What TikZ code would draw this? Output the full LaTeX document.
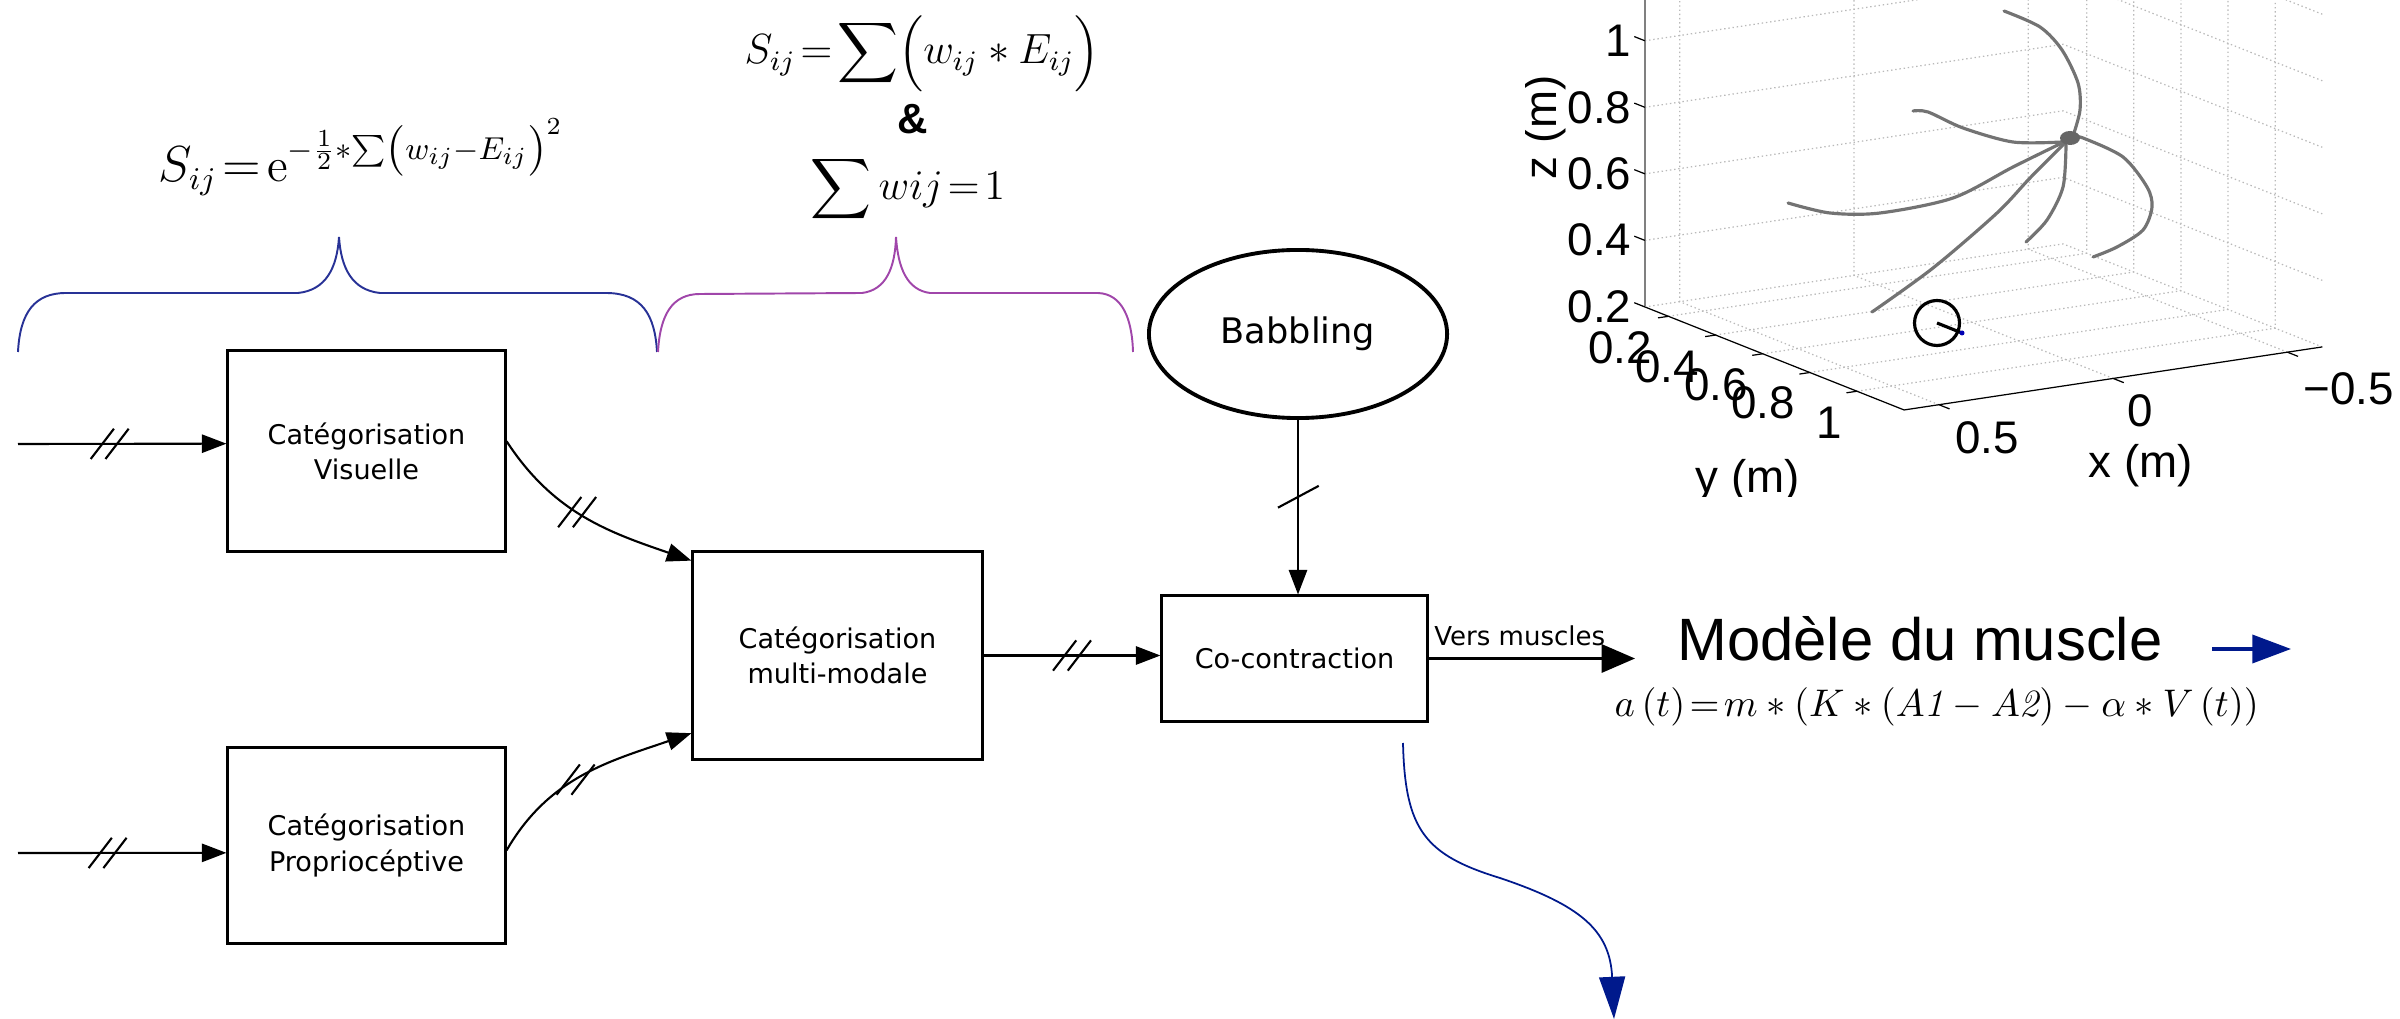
\documentclass[tikz,border=0pt]{standalone}
\usepackage{fontspec}
\usepackage{amsmath}
\usetikzlibrary{shapes.geometric, arrows.meta}
\newfontfamily\boxfont{DejaVu Sans}
\newfontfamily\plotfont{Liberation Sans}
\definecolor{bracenavy}{RGB}{40,50,150}
\definecolor{bracepurple}{RGB}{160,70,170}
\definecolor{darknavy}{RGB}{0,25,140}

\begin{document}
\begin{tikzpicture}[x=0.01cm, y=-0.01cm,
    catbox/.style={draw, line width=0.85pt, align=center, inner sep=0pt,
      font=\boxfont\fontsize{7.7}{10}\selectfont},
    wire/.style={line width=0.6pt, -{Triangle[length=7pt, width=5.2pt]}},
    busmark/.pic={\draw[line width=0.6pt] (-5.4pt,-4.3pt) -- (1.2pt,4.3pt);
                  \draw[line width=0.6pt] (-1.2pt,-4.3pt) -- (5.4pt,4.3pt);},
    slashmark/.pic={\draw[line width=0.6pt] (-5.7pt,-3.1pt) -- (5.9pt,3.1pt);},
    gridline/.style={gray!55, line width=0.35pt, dash pattern=on 0.4pt off 0.8pt},
    traj/.style={black!55, line width=0.9pt, line cap=round},
    ticklab/.style={font=\plotfont\fontsize{13}{15}\selectfont, inner sep=0pt}]

  \useasboundingbox (0,0) rectangle (2400,1019);

  % Draw the braces
  \draw[bracenavy, line width=0.55pt] (18,352) .. controls (20,312) and (35,293) .. (66,293)
    -- (298,293) .. controls (326,290) and (337,268) .. (339,237)
    .. controls (341,268) and (352,290) .. (380,293) -- (606,293)
    .. controls (642,293) and (655,315) .. (657,352);
  \draw[bracepurple, line width=0.55pt] (658,352) .. controls (660,315) and (672,294) .. (700,294)
    -- (862,293) .. controls (886,290) and (895,268) .. (896,237)
    .. controls (898,268) and (907,290) .. (930,293) -- (1098,293)
    .. controls (1122,294) and (1132,318) .. (1133,352);

  % Formulas over the braces
  \node[anchor=base west, inner sep=0pt, font=\fontsize{13.5}{15}\selectfont] (fgauss) at (158,182)
    {$S_{ij}\!=\!\mathrm{e}^{-\frac{1}{2}*\sum\left(w_{ij}-E_{ij}\right)^2}$};
  \node[anchor=base west, inner sep=0pt, font=\fontsize{12}{14}\selectfont] (fsum) at (744,64)
    {$\displaystyle S_{ij}\!=\!\sum\Bigl(w_{ij}*E_{ij}\Bigr)$};
  \node[anchor=base, inner sep=0pt, font=\plotfont\bfseries\fontsize{12}{14}\selectfont] (famp) at (913,134) {\&};
  \node[anchor=base west, inner sep=0pt, font=\fontsize{12}{14}\selectfont] (fnorm) at (810,200)
    {$\displaystyle\sum wij\!=\!1$};

  % Draw the boxes
  \node[catbox, minimum width=2.77cm, minimum height=2cm] (vis) at (366.5,451) {Catégorisation\\Visuelle};
  \node[catbox, minimum width=2.77cm, minimum height=1.95cm] (prop) at (366.5,845.5) {Catégorisation\\Propriocéptive};
  \node[catbox, minimum width=2.89cm, minimum height=2.07cm] (multi) at (837.5,655.5) {Catégorisation\\multi-modale};
  \node[catbox, minimum width=2.65cm, minimum height=1.25cm] (cocon) at (1294.5,658.5) {Co-contraction};
  \node[draw, ellipse, line width=1.1pt, minimum width=2.98cm, minimum height=1.68cm, inner sep=0pt,
    font=\boxfont\fontsize{10}{12}\selectfont] (babbling) at (1298,334) {Babbling};

  % Draw the wires entering the boxes
  \coordinate (inVis) at (18,444);
  \coordinate (inProp) at (18,853);
  \draw[wire] (inVis) -- coordinate[pos=0.44] (hVis) (vis.177);
  \draw[wire] (inProp) -- coordinate[pos=0.43] (hProp) (prop.183);
  \draw[wire] (vis.4) to[out=-57, in=161] coordinate[pos=0.45] (hVisMulti) (multi.147);
  \draw[wire] (prop.-2) to[out=60, in=-161] coordinate[pos=0.45] (hPropMulti) (multi.208);
  \draw[wire] (multi.east) -- coordinate[pos=0.5] (hMulti) (cocon.west |- multi.east);
  \draw[wire] (babbling.south) -- coordinate[pos=0.44] (hBab) (babbling.south |- cocon.north);
  \path (hVis) pic {busmark} (hProp) pic {busmark} (hVisMulti) pic {busmark}
        (hPropMulti) pic {busmark} (hMulti) pic {busmark} (hBab) pic {slashmark};

  % Draw the wire going to the muscles
  \coordinate (toMuscle) at (1635,660);
  \draw[line width=0.8pt, -{Triangle[length=9.5pt, width=8pt]}] (cocon.east) -- (cocon.east -| toMuscle)
    node[midway, above, font=\boxfont\fontsize{7.4}{9}\selectfont, xshift=-0.12cm] (vers) {Vers muscles};

  \node[font=\plotfont\fontsize{17}{20}\selectfont, inner sep=0pt] (muscle) at (1920,639) {Modèle du muscle};
  \node[anchor=base west, inner sep=0pt, font=\fontsize{11}{13}\selectfont] (fmuscle) at (1614,717)
    {$a\left(t\right)\!=\!m*\left(K*\left(A\mathit{1}-A\mathit{2}\right)-\alpha*V\left(t\right)\right)$};

  \coordinate (blueStart) at (2212,649);
  \coordinate (blueEnd) at (2291,649);
  \draw[darknavy, line width=0.9pt, -{Triangle[length=11pt, width=8pt]}] (blueStart) -- (blueEnd);

  \coordinate (waveStart) at (1403,743);
  \coordinate (waveEnd) at (1614,1019);
  \draw[darknavy, line width=0.5pt, -{Triangle[length=12pt, width=7.4pt]}] (waveStart)
    .. controls (1405,830) and (1425,855) .. (1500,878)
    .. controls (1580,905) and (1610,930) .. (waveEnd);

  % Draw the 3d plot
  \begin{scope}
    \clip (1525,0) rectangle (2400,497);
    \begin{scope}[shift={(1830.4,332.6)}, x={(-3.483cm,-0.525cm)}, y={(2.355cm,-0.936cm)}, z={(0cm,3.325cm)}]
      \foreach \zz in {0.2,0.4,0.6,0.8,1.0,1.2} {
        \draw[gridline] (0.6,0.1,\zz) -- (-0.6,0.1,\zz) -- (-0.6,1.2,\zz);
      }
      \foreach \xx in {0.5,0,-0.5} {
        \draw[gridline] (\xx,1.2,0.2) -- (\xx,0.1,0.2) -- (\xx,0.1,1.4);
      }
      \foreach \yy in {0.2,0.4,0.6,0.8,1.0} {
        \draw[gridline] (0.6,\yy,0.2) -- (-0.6,\yy,0.2) -- (-0.6,\yy,1.4);
      }
      % axes and ticks
      \draw[line width=0.35pt] (0.6,0.1,0.2) -- (0.6,1.2,0.2) -- (-0.6,1.2,0.2);
      \draw[gray, line width=0.6pt] (0.6,0.1,0.2) -- (0.6,0.1,1.4);
      \foreach \zz in {0.2,0.4,0.6,0.8,1.0} \draw[line width=0.35pt] (0.6,0.1,\zz) -- (0.6,0.055,\zz);
      \foreach \yy in {0.2,0.4,0.6,0.8,1.0} \draw[line width=0.35pt] (0.6,\yy,0.2) -- (0.63,\yy,0.2);
      \foreach \xx in {0.5,0,-0.5} \draw[line width=0.35pt] (\xx,1.2,0.2) -- (\xx,1.245,0.2);
    \end{scope}

    % trajectories
    \draw[traj] plot[smooth] coordinates {(2004,11) (2040,27) (2062,50) (2078,83) (2080,110) (2073,136)};
    \draw[traj] plot[smooth] coordinates {(1913,111) (1928,112) (1963,128) (2013,142) (2062,142)};
    \draw[traj] plot[smooth] coordinates {(1788,203) (1830,213) (1880,213) (1953,198) (2013,167) (2068,140)};
    \draw[traj] plot[smooth] coordinates {(1872,312) (1933,268) (1997,213) (2030,178) (2066,142)};
    \draw[traj] plot[smooth] coordinates {(2066,145) (2063,187) (2047,220) (2026,242)};
    \draw[traj] plot[smooth] coordinates {(2073,137) (2083,138) (2123,157) (2147,187) (2152,207) (2143,230) (2117,247) (2093,257)};
    \fill[black!60] (2070,138) ellipse (0.1cm and 0.07cm);

    % arm marker
    \draw[line width=0.9pt] (1937,323) circle (0.225cm);
    \draw[line width=0.9pt] (1937,323) -- (1962,333);
    \fill[blue!70!black] (1962,333) circle (0.025cm);

    % tick labels
    \foreach \lab/\py [count=\i] in {1/41, 0.8/107.5, 0.6/174, 0.4/240, 0.2/307}
      \node[ticklab, anchor=east] (zt\i) at (1632,\py) {\lab};
    \foreach \lab/\px/\py [count=\i] in {0.2/1620/348, 0.4/1667/367, 0.6/1716/385, 0.8/1763/403, 1/1829/423}
      \node[ticklab] (yt\i) at (\px,\py) {\lab};
    \node[ticklab] (xt1) at (1987,438) {0.5};
    \node[ticklab] (xt2) at (2140,411) {0};
    \node[ticklab, anchor=west] (xt3) at (2303,389) {−0.5};
    \node[ticklab] (xlab) at (2141,466) {x (m)};
    \node[ticklab] (ylab) at (1748,481) {y (m)};
    \node[ticklab, rotate=90] (zlab) at (1545,127) {z (m)};
  \end{scope}
\end{tikzpicture}
\end{document}
